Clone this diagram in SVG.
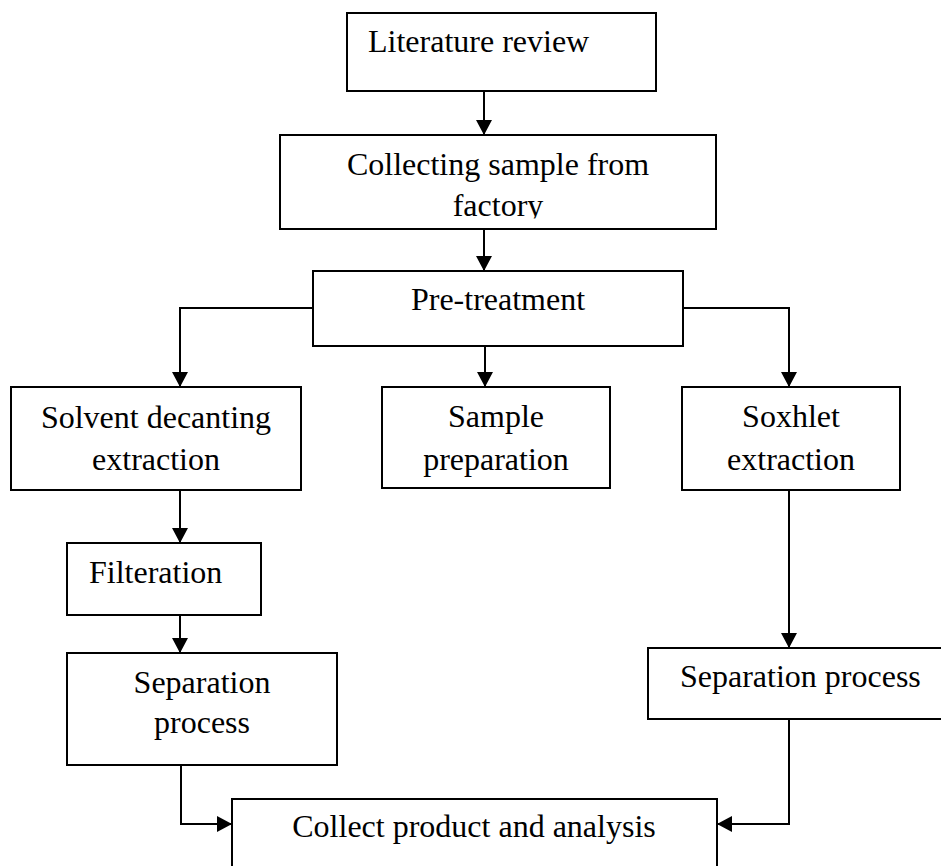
<svg xmlns="http://www.w3.org/2000/svg" width="941" height="866" viewBox="0 0 941 866">
<style>
.box{fill:#fff;stroke:#000;stroke-width:2}
.t{font-family:"Liberation Serif","Times New Roman",serif;font-size:32px;fill:#000}
.c{text-anchor:middle}
.ln{fill:none;stroke:#000;stroke-width:2}
</style>
<defs>
<marker id="ah" markerUnits="userSpaceOnUse" markerWidth="15" markerHeight="16" refX="14" refY="8" orient="auto" viewBox="0 0 15 16">
<path d="M0,0 L15,8 L0,16 z" fill="#000"/>
</marker>
<clipPath id="clipCollect"><rect x="281" y="136" width="434" height="82.5"/></clipPath>
</defs>
<rect width="941" height="866" fill="#fff"/>
<g id="connectors">
<path class="ln" d="M484,91 V134" marker-end="url(#ah)"/>
<path class="ln" d="M484,229 V270" marker-end="url(#ah)"/>
<path class="ln" d="M313,308 H180 V386" marker-end="url(#ah)"/>
<path class="ln" d="M485,346 V386" marker-end="url(#ah)"/>
<path class="ln" d="M683,308 H789 V386" marker-end="url(#ah)"/>
<path class="ln" d="M180,490 V542" marker-end="url(#ah)"/>
<path class="ln" d="M180,615 V652" marker-end="url(#ah)"/>
<path class="ln" d="M789,490 V647" marker-end="url(#ah)"/>
<path class="ln" d="M181,765 V824 H231" marker-end="url(#ah)"/>
<path class="ln" d="M789,719 V824 H718" marker-end="url(#ah)"/>
</g>
<g id="literature">
<rect class="box" x="347" y="13" width="309" height="78"/>
<text class="t" x="368" y="52">Literature review</text>
</g>
<g id="collecting">
<rect class="box" x="280" y="135" width="436" height="94"/>
<g clip-path="url(#clipCollect)">
<text class="t c" x="498" y="175">Collecting sample from</text>
<text class="t c" x="498" y="216">factory</text>
</g>
</g>
<g id="pretreatment">
<rect class="box" x="313" y="271" width="370" height="75"/>
<text class="t c" x="498" y="310">Pre-treatment</text>
</g>
<g id="solvent">
<rect class="box" x="11" y="387" width="290" height="103"/>
<text class="t c" x="156" y="428">Solvent decanting</text>
<text class="t c" x="156" y="470">extraction</text>
</g>
<g id="sample">
<rect class="box" x="382" y="387" width="228" height="101"/>
<text class="t c" x="496" y="427">Sample</text>
<text class="t c" x="496" y="470">preparation</text>
</g>
<g id="soxhlet">
<rect class="box" x="682" y="387" width="218" height="103"/>
<text class="t c" x="791" y="427">Soxhlet</text>
<text class="t c" x="791" y="470">extraction</text>
</g>
<g id="filteration">
<rect class="box" x="67" y="543" width="194" height="72"/>
<text class="t" x="89" y="583">Filteration</text>
</g>
<g id="separationLeft">
<rect class="box" x="67" y="653" width="270" height="112"/>
<text class="t c" x="202" y="693">Separation</text>
<text class="t c" x="202" y="733">process</text>
</g>
<g id="separationRight">
<rect class="box" x="648" y="648" width="300" height="71"/>
<text class="t" x="680" y="687">Separation process</text>
</g>
<g id="collectProduct">
<rect class="box" x="232" y="799" width="485" height="100"/>
<text class="t c" x="474" y="837">Collect product and analysis</text>
</g>
</svg>
